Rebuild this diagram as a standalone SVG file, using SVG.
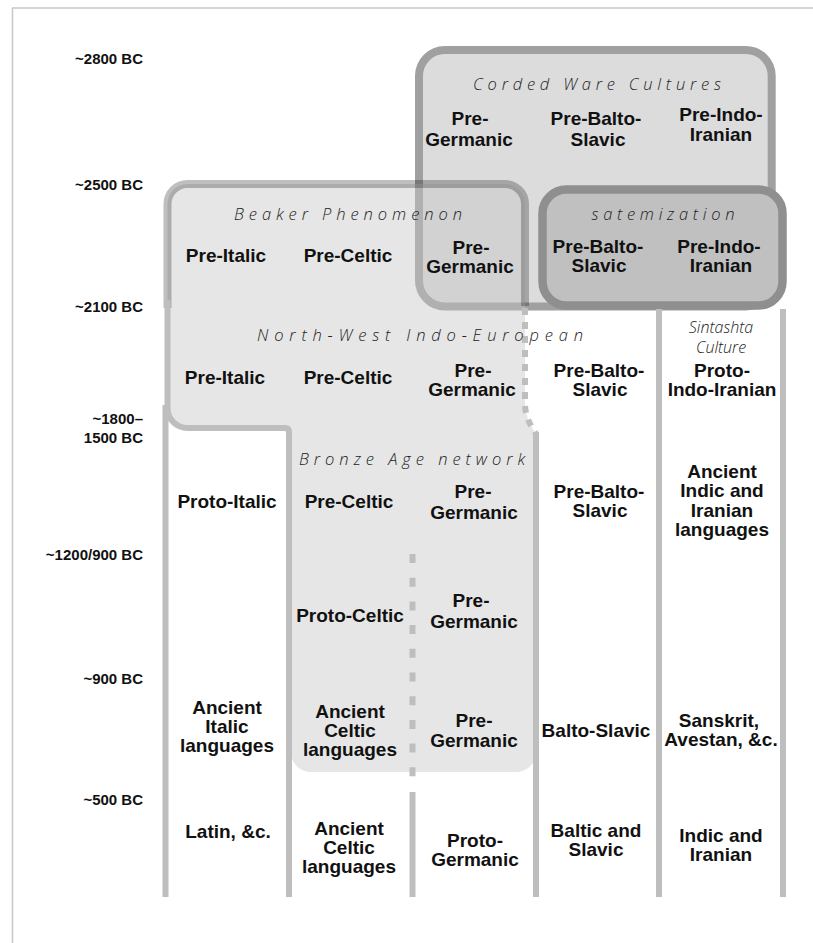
<svg xmlns="http://www.w3.org/2000/svg" width="813" height="943" viewBox="0 0 813 943">
<style>
.lbl{font-family:"Liberation Sans",Arial,sans-serif;font-weight:bold;font-size:19px;fill:#111;text-anchor:middle}
.date{font-family:"Liberation Sans",Arial,sans-serif;font-weight:bold;font-size:15px;fill:#111;text-anchor:end}
.ttl{font-family:"Open Sans","DejaVu Sans",sans-serif;font-style:italic;font-weight:300;font-size:16.5px;fill:#222;text-anchor:middle}
.sub{font-family:"Open Sans","DejaVu Sans",sans-serif;font-style:italic;font-weight:300;font-size:16px;fill:#222;text-anchor:middle}
.col{stroke:#bebebe;stroke-width:6;fill:none}
.frame{stroke:#c8c8c8;stroke-width:1.5;fill:none}
</style>
<rect width="813" height="943" fill="#fff"/>
<g id="frame">
<path class="frame" d="M12.5,943 V8 H813"/>
</g>
<g id="corded-ware">
<rect x="419" y="50" width="352.7" height="256.5" rx="26" fill="#dcdcdd" stroke="#a0a0a0" stroke-width="8"/>
</g>
<g id="satemization">
<rect x="542.5" y="189.5" width="240" height="116" rx="24" fill="#c0c0c1" stroke="#8f8f90" stroke-width="8.5"/>
</g>
<g id="nwie-region">
<path d="M167.5,204 A20,20 0 0 1 187.5,184 H505 A20,20 0 0 1 525,204 V404 Q525,418 536,434 V752 A20,20 0 0 1 516,772 H311 A20,20 0 0 1 291,752 V428 H187.5 A20,20 0 0 1 167.5,408 Z" fill="#c5c5c6" fill-opacity="0.43"/>
<path d="M167.5,308 V204 A20,20 0 0 1 187.5,184 H505 A20,20 0 0 1 525,204 V306" fill="none" stroke="#000" stroke-opacity="0.25" stroke-width="8"/>
</g>
<g id="connectors">
<path class="col" d="M167.5,300 V408 A20,20 0 0 0 187.5,428 H285 Q289,428 289,432 V897"/>
<line class="col" x1="165.5" y1="405" x2="165.5" y2="897"/>
<path class="col" d="M525,308 V404 Q525,418 536,434" stroke-dasharray="7 7"/>
<line class="col" x1="536" y1="432" x2="536" y2="897"/>
<line class="col" x1="412.5" y1="554" x2="412.5" y2="780" stroke-dasharray="9 14.7"/>
<line class="col" x1="412.5" y1="792" x2="412.5" y2="897"/>
<line class="col" x1="659" y1="309" x2="659" y2="897"/>
<line class="col" x1="783" y1="309" x2="783" y2="897"/>
</g>
<g id="dates">
<text class="date" x="143" y="64">~2800 BC</text>
<text class="date" x="143" y="190">~2500 BC</text>
<text class="date" x="143" y="312">~2100 BC</text>
<text class="date" x="143" y="424">~1800–</text>
<text class="date" x="143" y="443">1500 BC</text>
<text class="date" x="143" y="560">~1200/900 BC</text>
<text class="date" x="143" y="684">~900 BC</text>
<text class="date" x="143" y="805">~500 BC</text>
</g>
<g id="titles">
<text class="ttl" x="597" y="90" textLength="248" lengthAdjust="spacing">Corded Ware Cultures</text>
<text class="ttl" x="348" y="220" textLength="228" lengthAdjust="spacing">Beaker Phenomenon</text>
<text class="ttl" x="663" y="220" textLength="143" lengthAdjust="spacing">satemization</text>
<text class="ttl" x="420" y="341" textLength="326" lengthAdjust="spacing">North-West Indo-European</text>
<text class="ttl" x="412" y="465" textLength="226" lengthAdjust="spacing">Bronze Age network</text>
<text class="sub" x="721" y="333">Sintashta</text>
<text class="sub" x="721" y="353">Culture</text>
</g>
<g id="row-2800">
<g id="cw-germanic"><text class="lbl" x="470" y="125">Pre-</text><text class="lbl" x="469" y="146">Germanic</text></g>
<g id="cw-baltoslavic"><text class="lbl" x="596" y="125">Pre-Balto-</text><text class="lbl" x="598" y="146">Slavic</text></g>
<g id="cw-indoiranian"><text class="lbl" x="721" y="121">Pre-Indo-</text><text class="lbl" x="721" y="141">Iranian</text></g>
</g>
<g id="row-2500">
<g id="bk-italic"><text class="lbl" x="226" y="262">Pre-Italic</text></g>
<g id="bk-celtic"><text class="lbl" x="348" y="262">Pre-Celtic</text></g>
<g id="bk-germanic"><text class="lbl" x="471" y="254">Pre-</text><text class="lbl" x="470" y="273">Germanic</text></g>
<g id="st-baltoslavic"><text class="lbl" x="598" y="253">Pre-Balto-</text><text class="lbl" x="599" y="272">Slavic</text></g>
<g id="st-indoiranian"><text class="lbl" x="719" y="253">Pre-Indo-</text><text class="lbl" x="721" y="272">Iranian</text></g>
</g>
<g id="row-2100">
<g id="nw-italic"><text class="lbl" x="225" y="384">Pre-Italic</text></g>
<g id="nw-celtic"><text class="lbl" x="348" y="384">Pre-Celtic</text></g>
<g id="nw-germanic"><text class="lbl" x="473" y="377">Pre-</text><text class="lbl" x="472" y="396">Germanic</text></g>
<g id="nw-baltoslavic"><text class="lbl" x="599" y="377">Pre-Balto-</text><text class="lbl" x="600" y="396">Slavic</text></g>
<g id="nw-indoiranian"><text class="lbl" x="722" y="377">Proto-</text><text class="lbl" x="722" y="396">Indo-Iranian</text></g>
</g>
<g id="row-1800">
<g id="ba-italic"><text class="lbl" x="227" y="508">Proto-Italic</text></g>
<g id="ba-celtic"><text class="lbl" x="349" y="508">Pre-Celtic</text></g>
<g id="ba-germanic"><text class="lbl" x="473" y="498">Pre-</text><text class="lbl" x="474" y="519">Germanic</text></g>
<g id="ba-baltoslavic"><text class="lbl" x="599" y="498">Pre-Balto-</text><text class="lbl" x="600" y="517">Slavic</text></g>
<g id="ba-indoiranian"><text class="lbl" x="722" y="478">Ancient</text><text class="lbl" x="722" y="497">Indic and</text><text class="lbl" x="722" y="517">Iranian</text><text class="lbl" x="722" y="536">languages</text></g>
</g>
<g id="row-1200">
<g id="r5-celtic"><text class="lbl" x="350" y="622">Proto-Celtic</text></g>
<g id="r5-germanic"><text class="lbl" x="471" y="607">Pre-</text><text class="lbl" x="474" y="628">Germanic</text></g>
</g>
<g id="row-900">
<g id="r6-italic"><text class="lbl" x="227" y="714">Ancient</text><text class="lbl" x="227" y="733">Italic</text><text class="lbl" x="227" y="752">languages</text></g>
<g id="r6-celtic"><text class="lbl" x="350" y="718">Ancient</text><text class="lbl" x="350" y="737">Celtic</text><text class="lbl" x="350" y="756">languages</text></g>
<g id="r6-germanic"><text class="lbl" x="474" y="727">Pre-</text><text class="lbl" x="474" y="747">Germanic</text></g>
<g id="r6-baltoslavic"><text class="lbl" x="596" y="737">Balto-Slavic</text></g>
<g id="r6-indoiranian"><text class="lbl" x="719" y="727">Sanskrit,</text><text class="lbl" x="721" y="746">Avestan, &amp;c.</text></g>
</g>
<g id="row-500">
<g id="r7-italic"><text class="lbl" x="228" y="838">Latin, &amp;c.</text></g>
<g id="r7-celtic"><text class="lbl" x="349" y="835">Ancient</text><text class="lbl" x="349" y="854">Celtic</text><text class="lbl" x="349" y="873">languages</text></g>
<g id="r7-germanic"><text class="lbl" x="475" y="847">Proto-</text><text class="lbl" x="475" y="866">Germanic</text></g>
<g id="r7-baltoslavic"><text class="lbl" x="596" y="837">Baltic and</text><text class="lbl" x="596" y="856">Slavic</text></g>
<g id="r7-indoiranian"><text class="lbl" x="721" y="842">Indic and</text><text class="lbl" x="721" y="861">Iranian</text></g>
</g>
</svg>
